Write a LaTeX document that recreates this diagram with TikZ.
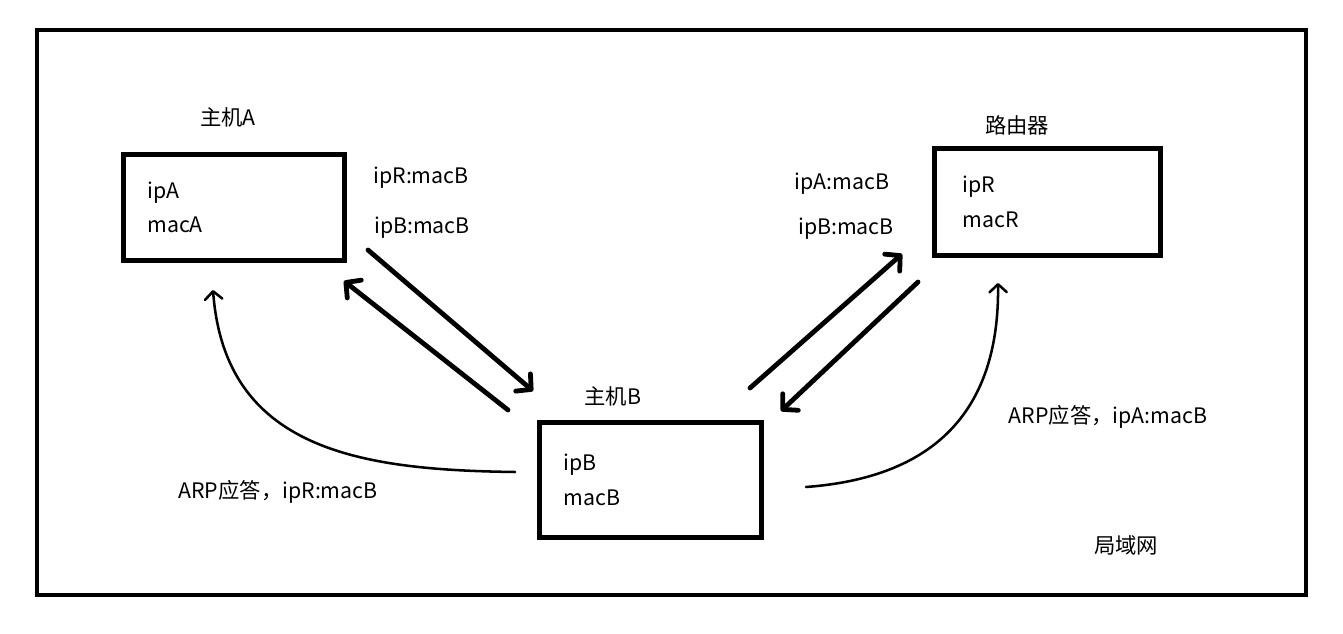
\documentclass[tikz,border=0pt]{standalone}
\usepackage{fontspec}
\setmainfont{Noto Sans CJK SC}
\usetikzlibrary{arrows.meta}

\begin{document}
\begin{tikzpicture}[
    x=0.75pt, y=-0.75pt,
    every node/.style={font=\fontsize{16}{26}\selectfont},
    box/.style={rectangle, draw, line width=3.75pt, align=left, inner xsep=18pt, minimum height=80pt},
    arrow/.style={-{Straight Barb[round, length=8pt, width=17pt]}, line width=3.6pt, line cap=round},
    reply/.style={-{Straight Barb[round, length=6pt, width=13pt]}, line width=1.9pt, line cap=round}
]
\useasboundingbox (0,0) rectangle (1343,634);
% LAN frame
\draw[line width=3pt] (37,30) rectangle (1306,595);

% hosts and router
\node[box, text width=130pt] (hostA) at (234,207.5) {ipA\\macA};
\node[box, text width=130.5pt, minimum height=86pt] (hostB) at (650.5,480) {ipB\\macB};
\node[box, text width=127.5pt, inner xsep=21pt] (router) at (1047.5,202) {ipR\\macR};

\node (labelA) at (228,117) {主机A};
\node (labelB) at (613,396) {主机B};
\node (labelR) at (1017,125) {路由器};
\node (lan) at (1126,545) {局域网};

% message labels
\node (msgA1) at (421,178) {ipR:macB};
\node (msgA2) at (422,228) {ipB:macB};
\node (msgR1) at (842,184) {ipA:macB};
\node (msgR2) at (846,229) {ipB:macB};
\node (replyA) at (278,492) {ARP应答，ipR:macB};
\node (replyR) at (1108,417) {ARP应答，ipA:macB};

% arrow ends
\coordinate (a1s) at (368,250);
\coordinate (a1e) at (533,391);
\coordinate (a2s) at (508,410);
\coordinate (a2e) at (344,281);
\coordinate (a3s) at (750,388);
\coordinate (a3e) at (902,254);
\coordinate (a4s) at (918,282);
\coordinate (a4e) at (781,411);
\coordinate (c1s) at (515,472);
\coordinate (c1e) at (213,290);
\coordinate (c2s) at (806,487);
\coordinate (c2e) at (998,283);

\draw[arrow] (a1s) -- (a1e);
\draw[arrow] (a2s) -- (a2e);
\draw[arrow] (a3s) -- (a3e);
\draw[arrow] (a4s) -- (a4e);

\draw[reply] (c1s) .. controls (360,470) and (225,450) .. (c1e);
\draw[reply] (c2s) .. controls (900,480) and (1000,440) .. (c2e);
\end{tikzpicture}
\end{document}
